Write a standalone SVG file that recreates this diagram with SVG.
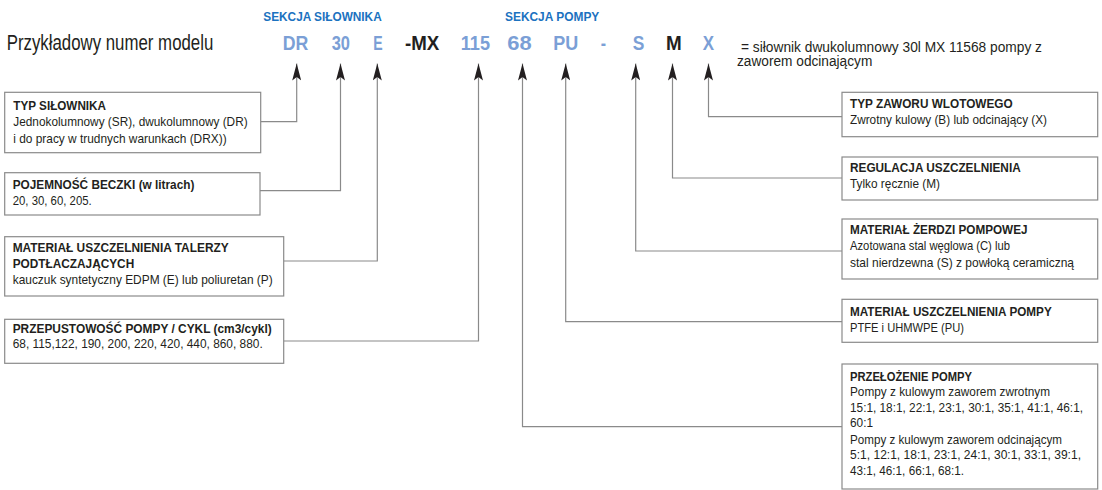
<svg xmlns="http://www.w3.org/2000/svg" width="1102" height="490" viewBox="0 0 1102 490">
<style>
text{font-family:"Liberation Sans",Arial,Helvetica,sans-serif;fill:#231f20}
.t{font-size:13.5px}
.s{font-size:12.5px}
.h{font-size:13.5px;font-weight:bold}
.sek{font-size:12px;font-weight:bold;fill:#1b72c0}
.code{font-size:21px;font-weight:bold;fill:#7b9fd6}
.dk{fill:#231f20}
.box{fill:#fff;stroke:#8a8a8a;stroke-width:1.2}
.con{fill:none;stroke:#8a8a8a;stroke-width:1.2}
</style>
<defs>
<marker id="arr" viewBox="0 0 17 9" refX="17" refY="4.5" markerWidth="17" markerHeight="9" markerUnits="userSpaceOnUse" orient="auto">
<path d="M17,4.5 L0,0 L3.5,4.5 L0,9 Z" fill="#231f20"/>
</marker>
</defs>
<g id="header">
<text x="6.7" y="50" font-size="22" textLength="206.6" lengthAdjust="spacingAndGlyphs">Przykładowy numer modelu</text>
<text class="sek" x="263.3" y="20.5" textLength="118.4" lengthAdjust="spacingAndGlyphs">SEKCJA SIŁOWNIKA</text>
<text class="sek" x="505" y="20.5" textLength="94.3" lengthAdjust="spacingAndGlyphs">SEKCJA POMPY</text>
<text class="code" x="282.7" y="50" textLength="25.6" lengthAdjust="spacingAndGlyphs">DR</text>
<text class="code" x="331.7" y="50" textLength="18.3" lengthAdjust="spacingAndGlyphs">30</text>
<text class="code" x="373.3" y="50" textLength="9.4" lengthAdjust="spacingAndGlyphs">E</text>
<text class="code dk" x="405" y="50" textLength="34.3" lengthAdjust="spacingAndGlyphs">-MX</text>
<text class="code" x="460.7" y="50" textLength="29.3" lengthAdjust="spacingAndGlyphs">115</text>
<text class="code" x="507.3" y="50" textLength="24.4" lengthAdjust="spacingAndGlyphs">68</text>
<text class="code" x="553.3" y="50" textLength="25" lengthAdjust="spacingAndGlyphs">PU</text>
<text class="code" x="600.7" y="50" textLength="5.3" lengthAdjust="spacingAndGlyphs">-</text>
<text class="code" x="632.7" y="50" textLength="11.6" lengthAdjust="spacingAndGlyphs">S</text>
<text class="code dk" x="666" y="50" textLength="15.7" lengthAdjust="spacingAndGlyphs">M</text>
<text class="code" x="702.7" y="50" textLength="11.3" lengthAdjust="spacingAndGlyphs">X</text>
<text x="741" y="51.5" font-size="14" textLength="301" lengthAdjust="spacingAndGlyphs">= siłownik dwukolumnowy 30l MX 11568 pompy z</text>
<text x="737" y="66" font-size="14" textLength="135.3" lengthAdjust="spacingAndGlyphs">zaworem odcinającym</text>
</g>
<g id="connectors">
<path class="con" marker-end="url(#arr)" d="M260.7,121.7 H296.7 V63.5"/>
<path class="con" marker-end="url(#arr)" d="M260,190.7 H340.5 V63.5"/>
<path class="con" marker-end="url(#arr)" d="M283.7,261 H377.3 V63.5"/>
<path class="con" marker-end="url(#arr)" d="M283.7,341 H478.5 V63.5"/>
<path class="con" marker-end="url(#arr)" d="M842,426.7 H522.5 V63.5"/>
<path class="con" marker-end="url(#arr)" d="M842,321.7 H565.7 V63.5"/>
<path class="con" marker-end="url(#arr)" d="M842,251 H635.7 V63.5"/>
<path class="con" marker-end="url(#arr)" d="M842,178 H672.5 V63.5"/>
<path class="con" marker-end="url(#arr)" d="M842,116.7 H708.5 V63.5"/>
</g>
<g id="typ-silownika">
<rect class="box" x="4.7" y="92.3" width="256" height="60.4"/>
<text class="h" x="13.3" y="109.5" textLength="92.7" lengthAdjust="spacingAndGlyphs">TYP SIŁOWNIKA</text>
<text class="t" x="13.3" y="126" textLength="234.3" lengthAdjust="spacingAndGlyphs">Jednokolumnowy (SR), dwukolumnowy (DR)</text>
<text class="t" x="13.3" y="142.5" textLength="213.3" lengthAdjust="spacingAndGlyphs">i do pracy w trudnych warunkach (DRX))</text>
</g>
<g id="pojemnosc">
<rect class="box" x="4.7" y="172.7" width="255.3" height="42.3"/>
<text class="h" x="12.7" y="189" textLength="181.7" lengthAdjust="spacingAndGlyphs">POJEMNOŚĆ BECZKI (w litrach)</text>
<text class="t" x="12.7" y="205" textLength="79" lengthAdjust="spacingAndGlyphs">20, 30, 60, 205.</text>
</g>
<g id="material-talerzy">
<rect class="box" x="4.7" y="236.7" width="279" height="59.3"/>
<text class="h" x="12.7" y="251.7" textLength="216" lengthAdjust="spacingAndGlyphs">MATERIAŁ USZCZELNIENIA TALERZY</text>
<text class="h" x="12.7" y="268.3" textLength="121.5" lengthAdjust="spacingAndGlyphs">PODTŁACZAJĄCYCH</text>
<text class="t" x="12.7" y="284.3" textLength="260" lengthAdjust="spacingAndGlyphs">kauczuk syntetyczny EDPM (E) lub poliuretan (P)</text>
</g>
<g id="przepustowosc">
<rect class="box" x="4.7" y="319.3" width="279" height="44"/>
<text class="h" x="12.7" y="333.3" textLength="259" lengthAdjust="spacingAndGlyphs">PRZEPUSTOWOŚĆ POMPY / CYKL (cm3/cykl)</text>
<text class="t" x="12.7" y="348.3" textLength="250" lengthAdjust="spacingAndGlyphs">68, 115,122, 190, 200, 220, 420, 440, 860, 880.</text>
</g>
<g id="typ-zaworu">
<rect class="box" x="842" y="92.3" width="255.7" height="44.4"/>
<text class="h" x="850" y="108.3" textLength="162.7" lengthAdjust="spacingAndGlyphs">TYP ZAWORU WLOTOWEGO</text>
<text class="t" x="850" y="124.3" textLength="197" lengthAdjust="spacingAndGlyphs">Zwrotny kulowy (B) lub odcinający (X)</text>
</g>
<g id="regulacja">
<rect class="box" x="842" y="157" width="255.7" height="43"/>
<text class="h" x="850" y="172.3" textLength="170.7" lengthAdjust="spacingAndGlyphs">REGULACJA USZCZELNIENIA</text>
<text class="t" x="850" y="187.7" textLength="90" lengthAdjust="spacingAndGlyphs">Tylko ręcznie (M)</text>
</g>
<g id="material-zerdzi">
<rect class="box" x="842" y="219" width="255.7" height="60"/>
<text class="h" x="850" y="234.3" textLength="177.5" lengthAdjust="spacingAndGlyphs">MATERIAŁ ŻERDZI POMPOWEJ</text>
<text class="t" x="850" y="250" textLength="160" lengthAdjust="spacingAndGlyphs">Azotowana stal węglowa (C) lub</text>
<text class="t" x="850" y="266.7" textLength="224" lengthAdjust="spacingAndGlyphs">stal nierdzewna (S) z powłoką ceramiczną</text>
</g>
<g id="material-pompy">
<rect class="box" x="842" y="299.3" width="255.7" height="43"/>
<text class="h" x="850" y="316" textLength="201.7" lengthAdjust="spacingAndGlyphs">MATERIAŁ USZCZELNIENIA POMPY</text>
<text class="t" x="850" y="332.3" textLength="114" lengthAdjust="spacingAndGlyphs">PTFE i UHMWPE (PU)</text>
</g>
<g id="przelozenie">
<rect class="box" x="842" y="364" width="255.7" height="125"/>
<text class="h" x="850" y="380.7" textLength="122" lengthAdjust="spacingAndGlyphs">PRZEŁOŻENIE POMPY</text>
<text class="t" x="850" y="396" textLength="200" lengthAdjust="spacingAndGlyphs">Pompy z kulowym zaworem zwrotnym</text>
<text class="s" x="850" y="411.7" textLength="233" lengthAdjust="spacingAndGlyphs">15:1, 18:1, 22:1, 23:1, 30:1, 35:1, 41:1, 46:1,</text>
<text class="t" x="850" y="427.3" textLength="23" lengthAdjust="spacingAndGlyphs">60:1</text>
<text class="t" x="850" y="443.5" textLength="212" lengthAdjust="spacingAndGlyphs">Pompy z kulowym zaworem odcinającym</text>
<text class="s" x="850" y="459.3" textLength="231" lengthAdjust="spacingAndGlyphs">5:1, 12:1, 18:1, 23:1, 24:1, 30:1, 33:1, 39:1,</text>
<text class="t" x="850" y="475" textLength="114" lengthAdjust="spacingAndGlyphs">43:1, 46:1, 66:1, 68:1.</text>
</g>
</svg>
